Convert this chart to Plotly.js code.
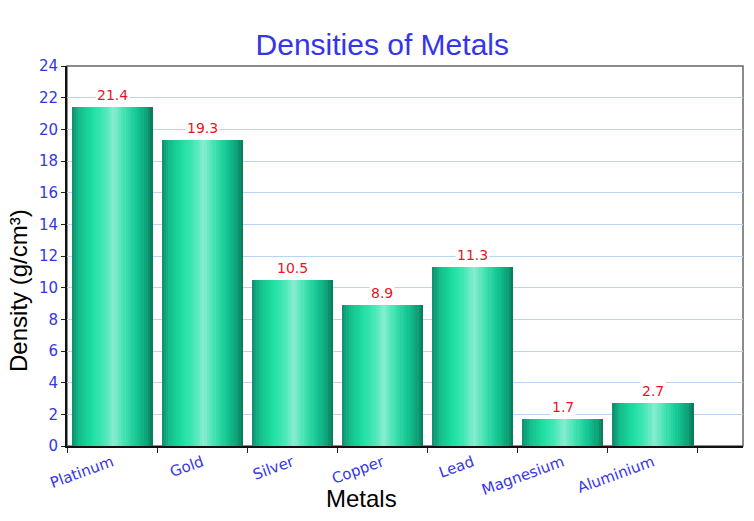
<!DOCTYPE html>
<html>
<head>
<meta charset="utf-8">
<script src="https://cdn.plot.ly/plotly-3.0.1.min.js"></script>
<style>
  html, body { margin: 0; padding: 0; background: #fff; }
  #chart { width: 754px; height: 521px; }
</style>
</head>
<body>
<div id="chart"></div>
<script>
// Densities of common metals (g/cm3)
const metals = ['Platinum', 'Gold', 'Silver', 'Copper', 'Lead', 'Magnesium', 'Aluminium'];
const densities = [21.4, 19.3, 10.5, 8.9, 11.3, 1.7, 2.7];
const yTicks = [0, 2, 4, 6, 8, 10, 12, 14, 16, 18, 20, 22, 24];

const blue = '#3535ea';
const labelFont = "'Comic Sans MS', 'DejaVu Sans', sans-serif";
const titleFont = 'Liberation Sans, Arial, sans-serif';

// cylinder-like shading: colour stops across the bar (0 = left edge, 1 = right edge)
const shade = [
    [0.00, [14, 140, 110]],
    [0.10, [20, 190, 140]],
    [0.25, [28, 222, 160]],
    [0.40, [70, 232, 182]],
    [0.52, [135, 236, 208]],
    [0.64, [70, 228, 180]],
    [0.80, [20, 200, 148]],
    [0.93, [14, 160, 118]],
    [1.00, [10, 118, 90]]
];

function shadeAt(t) {
    for (let i = 1; i < shade.length; i++) {
        if (t <= shade[i][0]) {
            const a = shade[i - 1], b = shade[i];
            const f = (t - a[0]) / (b[0] - a[0]);
            const c = a[1].map((v, k) => Math.round(v + (b[1][k] - v) * f));
            return 'rgb(' + c.join(',') + ')';
        }
    }
    return 'rgb(10,118,90)';
}

// each bar is drawn as thin vertical stripes so it can carry the gradient
const barWidth = 0.9;
const stripes = 36;
const traces = [];
for (let i = 0; i < stripes; i++) {
    const w = barWidth / stripes;
    traces.push({
        type: 'bar',
        x: metals,
        y: densities,
        width: w * 1.05,
        offset: -barWidth / 2 + i * w,
        marker: { color: shadeAt((i + 0.5) / stripes), line: { width: 0 } },
        hoverinfo: i === 0 ? 'x+y' : 'skip',
        showlegend: false
    });
}

const annotations = metals.map((m, i) => ({
    x: m,
    y: densities[i],
    text: String(densities[i]),
    showarrow: false,
    yanchor: 'bottom',
    yshift: 2,
    bgcolor: '#ffffff',
    borderpad: 1,
    font: { family: labelFont, size: 14, color: '#e8161c' }
}));

// axis titles placed by hand, the original sits them off-centre
annotations.push({
    xref: 'paper', yref: 'paper',
    x: 0.436, y: -0.137,
    xanchor: 'center', yanchor: 'middle',
    text: 'Metals',
    showarrow: false,
    font: { family: titleFont, size: 24, color: '#000' }
});
annotations.push({
    xref: 'paper', yref: 'paper',
    x: -0.071, y: 0.408,
    xanchor: 'center', yanchor: 'middle',
    textangle: -90,
    text: 'Density (g/cm³)',
    showarrow: false,
    font: { family: titleFont, size: 24, color: '#000' }
});

const layout = {
    width: 754,
    height: 521,
    margin: { l: 67, r: 11, t: 66, b: 75 },
    paper_bgcolor: '#fff',
    plot_bgcolor: '#fff',
    barmode: 'overlay',
    bargap: 0,
    title: {
        text: 'Densities of Metals',
        font: { family: titleFont, size: 30, color: blue },
        x: 0.507, xanchor: 'center',
        y: 0.915, yref: 'container', yanchor: 'middle'
    },
    xaxis: {
        type: 'category',
        range: [-0.5, 7],
        tickson: 'boundaries',
        ticks: 'outside',
        ticklen: 5,
        tickcolor: '#222',
        tickangle: -20,
        tickfont: { family: labelFont, size: 15, color: blue },
        showline: true,
        linecolor: '#111',
        linewidth: 2,
        showgrid: false
    },
    yaxis: {
        range: [0, 24],
        tickvals: yTicks,
        ticks: 'outside',
        ticklen: 4,
        tickcolor: '#222',
        tickfont: { family: labelFont, size: 15, color: blue },
        showline: true,
        linecolor: '#111',
        linewidth: 2,
        showgrid: true,
        gridcolor: '#b8d4f2',
        gridwidth: 1,
        zeroline: false
    },
    shapes: [{
        type: 'rect', xref: 'paper', yref: 'paper',
        x0: 0, x1: 1, y0: 0, y1: 1,
        line: { color: '#666', width: 1.5 },
        layer: 'below'
    }],
    annotations: annotations
};

Plotly.newPlot('chart', traces, layout, { displayModeBar: false, staticPlot: true });
</script>
</body>
</html>
